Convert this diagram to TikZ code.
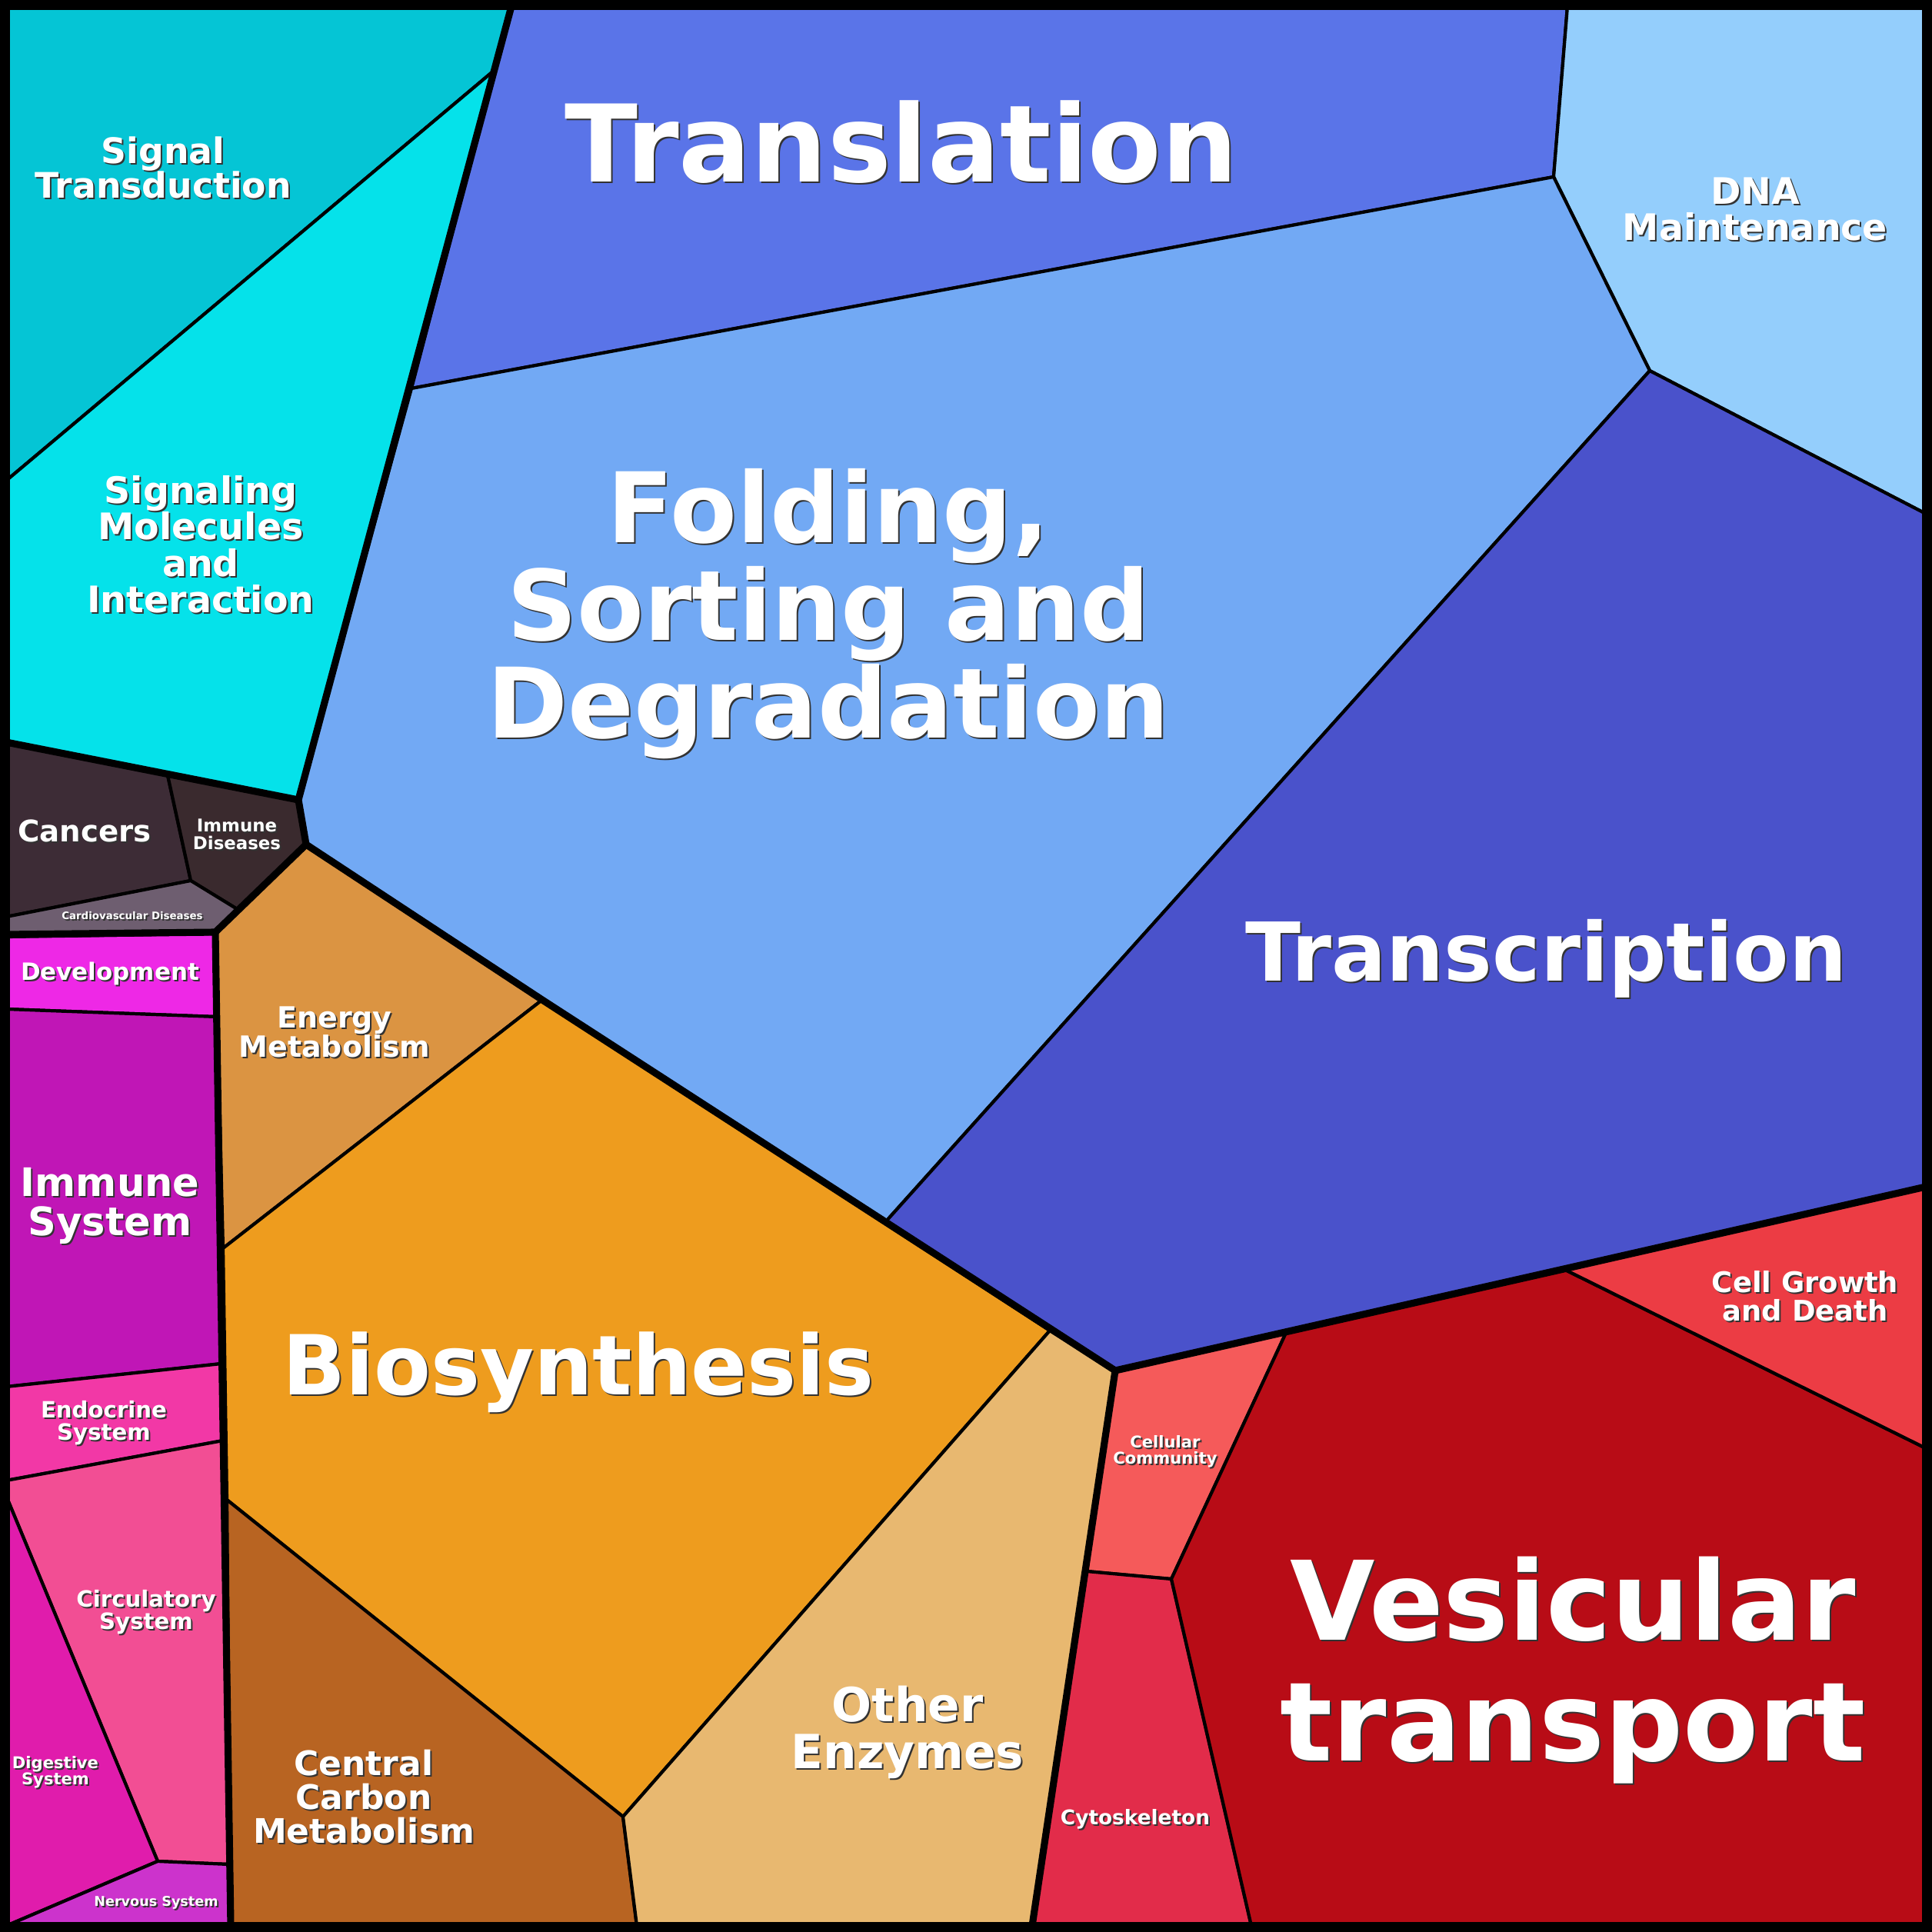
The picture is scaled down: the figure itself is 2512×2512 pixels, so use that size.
\documentclass[tikz,border=0pt]{standalone}
\usepackage{fontspec}
\setmainfont{DejaVu Sans}
\begin{document}
\begin{tikzpicture}[x=0.01cm,y=-0.01cm,
 cell/.style={draw=black,line width=1.2pt,line join=round},
 grp/.style={draw=black,line width=2.6pt,line join=round},
 lab/.style={text=white,font=\bfseries,align=center,inner sep=0pt},
 sh/.style={text=black!80,font=\bfseries,align=center,inner sep=0pt}]
\newcommand\fs[1]{\fontsize{#1pt}{#1pt}\selectfont}
\newcommand\lbl[4]{\node[sh,font=\bfseries\fs{#3}] (s#1) at ([shift={(2,2)}]#2) {#4};
 \node[lab,font=\bfseries\fs{#3}] (#1) at (#2) {#4};}
\useasboundingbox (0,0) rectangle (2512,2512);
\fill[black] (0,0) rectangle (2512,2512);
\definecolor{c1}{HTML}{05C5D5}\definecolor{c2}{HTML}{05E2EA}
\definecolor{c3}{HTML}{5A74E8}\definecolor{c4}{HTML}{94CEFC}
\definecolor{c5}{HTML}{72A9F4}\definecolor{c6}{HTML}{4A52CB}
\definecolor{c7}{HTML}{3D2C36}\definecolor{c8}{HTML}{3A2A2E}
\definecolor{c9}{HTML}{6E5E70}\definecolor{c10}{HTML}{EE28E6}
\definecolor{c11}{HTML}{C016B6}\definecolor{c12}{HTML}{F238A6}
\definecolor{c13}{HTML}{F24E94}\definecolor{c14}{HTML}{E01CAC}
\definecolor{c15}{HTML}{CC33CC}\definecolor{c16}{HTML}{DB9442}
\definecolor{c17}{HTML}{EE9C1E}\definecolor{c18}{HTML}{B86422}
\definecolor{c19}{HTML}{E8B870}\definecolor{c20}{HTML}{F55A5A}
\definecolor{c21}{HTML}{E22C4A}\definecolor{c22}{HTML}{B80C16}
\definecolor{c23}{HTML}{EC3C44}
\filldraw[cell,fill=c1] (8,8)--(665,8)--(642,92)--(8,625)--cycle;
\filldraw[cell,fill=c2] (642,92)--(388,1040)--(8,965)--(8,625)--cycle;
\filldraw[cell,fill=c3] (665,8)--(2038,8)--(2020,230)--(535,505)--cycle;
\filldraw[cell,fill=c4] (2038,8)--(2504,8)--(2504,668)--(2145,482)--(2020,230)--cycle;
\filldraw[cell,fill=c5] (535,505)--(2020,230)--(2145,482)--(1152,1588)--(705,1300)--(398,1098)--(388,1040)--cycle;
\filldraw[cell,fill=c6] (2145,482)--(2504,668)--(2504,1543)--(2033,1650)--(1672,1733)--(1450,1782)--(1365,1730)--(1152,1588)--cycle;
\filldraw[cell,fill=c7] (8,965)--(218,1008)--(248,1145)--(8,1192)--cycle;
\filldraw[cell,fill=c8] (218,1008)--(388,1040)--(398,1098)--(310,1183)--(248,1145)--cycle;
\filldraw[cell,fill=c9] (8,1192)--(248,1145)--(310,1183)--(280,1212)--(8,1215)--cycle;
\filldraw[cell,fill=c10] (8,1218)--(280,1214)--(282,1322)--(8,1312)--cycle;
\filldraw[cell,fill=c11] (8,1312)--(282,1322)--(288,1773)--(8,1803)--cycle;
\filldraw[cell,fill=c12] (8,1803)--(288,1773)--(290,1873)--(8,1925)--cycle;
\filldraw[cell,fill=c13] (8,1925)--(290,1873)--(298,2424)--(205,2420)--(8,1945)--cycle;
\filldraw[cell,fill=c14] (8,1945)--(205,2420)--(8,2504)--cycle;
\filldraw[cell,fill=c15] (205,2420)--(298,2424)--(300,2504)--(8,2504)--cycle;
\filldraw[cell,fill=c16] (280,1214)--(398,1098)--(705,1300)--(290,1623)--cycle;
\filldraw[cell,fill=c17] (290,1623)--(705,1300)--(1365,1730)--(810,2362)--(295,1950)--cycle;
\filldraw[cell,fill=c18] (295,1950)--(810,2362)--(828,2504)--(300,2504)--cycle;
\filldraw[cell,fill=c19] (810,2362)--(1365,1730)--(1450,1782)--(1342,2504)--(828,2504)--cycle;
\filldraw[cell,fill=c20] (1450,1782)--(1672,1733)--(1523,2053)--(1413,2043)--cycle;
\filldraw[cell,fill=c21] (1413,2043)--(1523,2053)--(1627,2504)--(1342,2504)--cycle;
\filldraw[cell,fill=c22] (1672,1733)--(2033,1650)--(2504,1883)--(2504,2504)--(1627,2504)--(1523,2053)--cycle;
\filldraw[cell,fill=c23] (2033,1650)--(2504,1543)--(2504,1883)--cycle;
% group boundaries
\draw[grp] (665,8)--(388,1040)--(398,1098)--(705,1300)--(1450,1782)--(2033,1650)--(2504,1543);
\draw[grp] (8,965)--(388,1040);
\draw[grp] (398,1098)--(280,1212)--(8,1215);
\draw[grp] (280,1212)--(300,2504);
\draw[grp] (1450,1782)--(1342,2504);
\draw[black,line width=5pt] (4,4) rectangle (2508,2508);
% labels
\lbl{st}{212,218}{13}{Signal\\Transduction}
\lbl{sm}{261,708}{13.5}{Signaling\\Molecules\\and\\Interaction}
\lbl{tl}{1172,185}{39.6}{Translation}
\lbl{fo}{1077,798}{36}{Folding,\\Sorting and\\Degradation}
\lbl{dna}{2282,272}{13.5}{DNA\\Maintenance}
\lbl{tc}{2010,1246}{30}{Transcription}
\lbl{ca}{110,1080}{11}{Cancers}
\lbl{id}{308,1085}{6.5}{Immune\\Diseases}
\lbl{cv}{172,1191}{3.8}{Cardiovascular Diseases}
\lbl{dev}{143,1266}{8.8}{Development}
\lbl{is}{143,1568}{14.5}{Immune\\System}
\lbl{es}{135,1850}{8.3}{Endocrine\\System}
\lbl{cs}{190,2096}{8.3}{Circulatory\\System}
\lbl{ds}{72,2304}{6}{Digestive\\System}
\lbl{ns}{203,2474}{5}{Nervous System}
\lbl{em}{435,1342}{10.8}{Energy\\Metabolism}
\lbl{bs}{752,1784}{30.6}{Biosynthesis}
\lbl{cc}{473,2336}{12.5}{Central\\Carbon\\Metabolism}
\lbl{oe}{1180,2252}{17.4}{Other\\Enzymes}
\lbl{ccm}{1515,1887}{6}{Cellular\\Community}
\lbl{cy}{1476,2365}{7.5}{Cytoskeleton}
\lbl{vt}{2045,2172}{40.6}{Vesicular\\[4pt]transport}
\lbl{cg}{2347,1685}{10.5}{Cell Growth\\and Death}
\end{tikzpicture}
\end{document}
